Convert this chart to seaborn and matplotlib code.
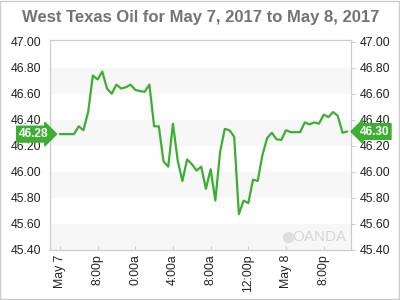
import matplotlib
matplotlib.use("Agg")
import matplotlib.pyplot as plt
import matplotlib.transforms as mtransforms
import numpy as np
import pandas as pd
import seaborn as sns

# ---- data (30-minute steps) ----
prices = [46.29, 46.29, 46.29, 46.29, 46.35, 46.32, 46.46, 46.74, 46.71, 46.77,
          46.64, 46.60, 46.67, 46.64, 46.65, 46.67, 46.63, 46.62, 46.615, 46.67,
          46.35, 46.35, 46.08, 46.04, 46.37, 46.09, 45.93, 46.095, 46.06, 46.01,
          46.04, 45.87, 46.02, 45.78, 46.15, 46.33, 46.32, 46.27, 45.675, 45.78,
          45.76, 45.94, 45.93, 46.13, 46.26, 46.30, 46.25, 46.245, 46.32, 46.305,
          46.305, 46.305, 46.38, 46.365, 46.38, 46.37, 46.44, 46.42, 46.46, 46.43,
          46.30, 46.31]
step_hours = 0.5
hours = [i * step_hours for i in range(len(prices))]
x_tick_hours = [0, 4, 8, 12, 16, 20, 24, 28]
x_tick_labels = ["May 7", "8:00p", "0:00a", "4:00a", "8:00a", "12:00p", "May 8", "8:00p"]
y_ticks = [45.40, 45.60, 45.80, 46.00, 46.20, 46.40, 46.60, 46.80, 47.00]
title = "West Texas Oil for May 7, 2017 to May 8, 2017"
start_label = "46.28"
end_label = "46.30"

df = pd.DataFrame({"hour": hours, "price": prices})

sns.set_theme(style="white")
plt.rcParams["font.family"] = ["Liberation Sans", "DejaVu Sans"]

fig = plt.figure(figsize=(4, 3), dpi=100)
ax = fig.add_axes([0.125, 0.1667, 0.7525, 0.70])

green = "#3cae32"
frame = "#cccccc"

# alternating bands
for lo, hi in [(45.4, 45.6), (45.8, 46.0), (46.2, 46.4), (46.6, 46.8)]:
    ax.axhspan(lo, hi, color="#f7f7f7", zorder=0, lw=0)

sns.lineplot(data=df, x="hour", y="price", ax=ax, color=green, lw=1.6, zorder=3)

ax.set_xlim(-1.05, 30.9)
ax.set_ylim(45.40, 47.013)
ax.set_xticks(x_tick_hours)
ax.set_xticklabels(x_tick_labels, rotation=90, fontsize=8.8, color="#222222")
ax.set_yticks(y_ticks)
ax.set_yticklabels([f"{v:.2f}" for v in y_ticks], fontsize=8.8, color="#222222")
ax.set_xlabel("")
ax.set_ylabel("")

ax.tick_params(axis="y", left=False, right=True, labelleft=True, labelright=True,
               length=3, width=0.8, color=frame, pad=3)
ax.tick_params(axis="x", bottom=True, direction="in", length=3, width=0.8,
               color=frame, pad=3)
for s in ax.spines.values():
    s.set_color(frame)
    s.set_linewidth(0.9)

ax.set_title(title, fontsize=12, fontweight="bold", color="#737373", pad=13)

# price markers
trans_l = mtransforms.blended_transform_factory(ax.transAxes, ax.transData)
ax.text(-0.006, prices[0], start_label, transform=trans_l, ha="right", va="center",
        fontsize=8.6, color="white", fontweight="bold", zorder=10, clip_on=False,
        bbox=dict(boxstyle="rarrow,pad=0.16", fc=green, ec=green))
ax.text(1.028, prices[-1], end_label, transform=trans_l, ha="left", va="center",
        fontsize=8.6, color="white", fontweight="bold", zorder=10, clip_on=False,
        bbox=dict(boxstyle="larrow,pad=0.16", fc=green, ec=green))

# watermark
ax.text(0.985, 0.06, "OANDA", transform=ax.transAxes, ha="right", va="center",
        fontsize=11, color="#d6d6d6", zorder=1)
ax.plot([0.79], [0.06], transform=ax.transAxes, marker="o", ms=7,
        color="#dedede", zorder=1, clip_on=False)

# outer border
fig.patches.append(plt.Rectangle((0.001, 0.002), 0.997, 0.996, transform=fig.transFigure,
                                 fill=False, ec="#cccccc", lw=1))

fig.savefig("out.png", dpi=100)
